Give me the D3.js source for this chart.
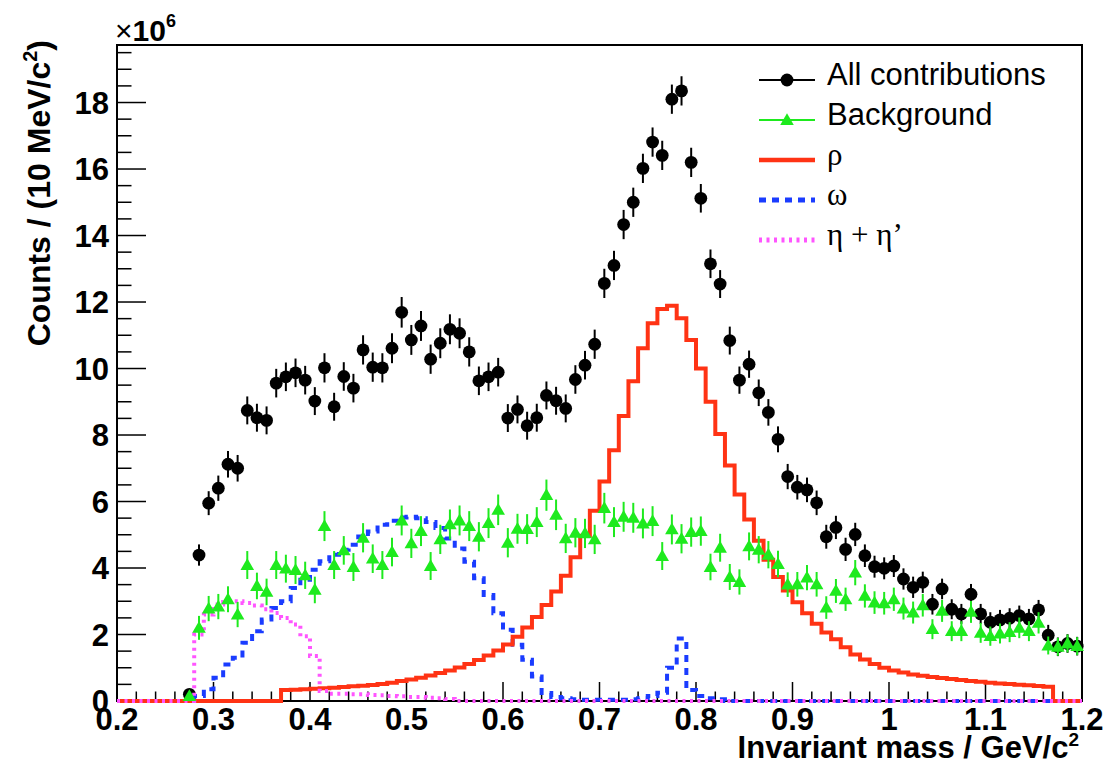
<!DOCTYPE html>
<html lang="en">
<head>
<meta charset="UTF-8">
<title>Invariant mass</title>
<script src="https://d3js.org/d3.v7.min.js"></script>
<style>
  body { margin: 0; background: #fff; }
  svg text { font-family: "Liberation Sans", Arial, Helvetica, sans-serif; }
</style>
</head>
<body>
<div id="chart"></div>
<script>
// ---- data (counts in units of 10^6, 10 MeV bins) ----
const firstCentre = 0.275;   // centre of the first non-empty data bin
const binWidth = 0.01;

const allCounts = [
  0.2, 4.39, 5.95, 6.4, 7.12, 7.0, 8.74, 8.52, 8.44, 9.56,
  9.75, 9.87, 9.65, 9.02, 10.02, 8.85, 9.76, 9.41, 10.56, 10.04,
  10.02, 10.61, 11.69, 10.86, 11.28, 10.28, 10.76, 11.18, 11.06, 10.5,
  9.63, 9.75, 9.89, 8.51, 8.77, 8.28, 8.52, 9.19, 9.03, 8.8,
  9.67, 10.1, 10.73, 12.56, 13.1, 14.33, 15.0, 16.02, 16.81, 16.41,
  18.1, 18.35, 16.2, 15.12, 13.15, 12.54, 10.84, 9.65, 10.13, 9.27,
  8.68, 7.87, 6.75, 6.43, 6.35, 5.96, 4.94, 5.22, 4.56, 5.01,
  4.37, 4.04, 3.99, 4.06, 3.67, 3.42, 3.57, 2.91, 3.37, 2.76,
  2.62, 3.21, 2.62, 2.37, 2.44, 2.49, 2.57, 2.47, 2.74, 1.98,
  1.63, 1.73, 1.65
];
const allErr = [
  0.15, 0.32, 0.36, 0.38, 0.4, 0.4, 0.42, 0.42, 0.42, 0.43,
  0.43, 0.43, 0.43, 0.42, 0.44, 0.42, 0.43, 0.43, 0.44, 0.44,
  0.44, 0.45, 0.46, 0.45, 0.45, 0.44, 0.45, 0.45, 0.45, 0.44,
  0.43, 0.43, 0.43, 0.42, 0.42, 0.42, 0.42, 0.42, 0.42, 0.42,
  0.43, 0.43, 0.44, 0.44, 0.44, 0.44, 0.44, 0.44, 0.44, 0.44,
  0.44, 0.44, 0.44, 0.43, 0.43, 0.42, 0.42, 0.41, 0.41, 0.4,
  0.4, 0.39, 0.38, 0.37, 0.37, 0.37, 0.36, 0.35, 0.35, 0.35,
  0.34, 0.33, 0.33, 0.33, 0.32, 0.32, 0.32, 0.31, 0.31, 0.3,
  0.3, 0.31, 0.3, 0.3, 0.3, 0.3, 0.3, 0.3, 0.3, 0.31,
  0.28, 0.28, 0.28
];

const bkgCounts = [
  0.15, 2.2, 2.78, 2.84, 3.06, 2.6, 4.09, 3.46, 3.28, 4.09,
  3.98, 3.94, 3.78, 3.34, 5.26, 4.09, 4.53, 4.03, 4.91, 4.28,
  4.09, 4.48, 5.43, 4.74, 5.11, 4.06, 4.86, 5.31, 5.43, 5.26,
  4.94, 5.35, 5.75, 4.76, 5.18, 5.17, 5.38, 6.19, 5.6, 4.89,
  5.06, 5.04, 4.86, 5.8, 5.38, 5.54, 5.51, 5.34, 5.41, 4.36,
  5.16, 4.88, 5.08, 5.11, 4.03, 4.61, 3.73, 3.58, 4.65, 4.55,
  4.4, 4.12, 3.5, 3.51, 3.71, 3.51, 2.81, 3.31, 3.06, 3.86,
  3.16, 2.96, 2.94, 3.06, 2.78, 2.66, 2.88, 2.16, 2.71, 2.1,
  2.1, 2.68, 2.05, 1.95, 2.03, 2.07, 2.2, 2.1, 2.35, 1.67,
  1.63, 1.73, 1.65
];
const bkgErr = [
  0.1, 0.36, 0.38, 0.38, 0.39, 0.38, 0.42, 0.4, 0.4, 0.42,
  0.42, 0.42, 0.41, 0.4, 0.45, 0.42, 0.43, 0.42, 0.44, 0.43,
  0.42, 0.43, 0.45, 0.44, 0.45, 0.42, 0.44, 0.45, 0.45, 0.45,
  0.44, 0.45, 0.46, 0.44, 0.45, 0.45, 0.45, 0.47, 0.46, 0.44,
  0.44, 0.44, 0.44, 0.46, 0.45, 0.45, 0.45, 0.45, 0.45, 0.42,
  0.45, 0.44, 0.44, 0.44, 0.4, 0.42, 0.39, 0.38, 0.42, 0.41,
  0.41, 0.4, 0.37, 0.37, 0.38, 0.37, 0.34, 0.36, 0.35, 0.38,
  0.35, 0.34, 0.34, 0.35, 0.33, 0.33, 0.34, 0.3, 0.33, 0.3,
  0.3, 0.33, 0.3, 0.29, 0.3, 0.3, 0.31, 0.3, 0.32, 0.27,
  0.27, 0.27, 0.27
];

// histograms: low edge of first filled bin + contents
const rhoStart = 0.37;
const rhoValues = [
  0.33, 0.34, 0.35, 0.37, 0.38, 0.40, 0.42, 0.44, 0.46, 0.48,
  0.51, 0.55, 0.60, 0.65, 0.70, 0.77, 0.84, 0.92, 1.01, 1.11,
  1.23, 1.37, 1.52, 1.70, 1.93, 2.21, 2.53, 2.89, 3.29, 3.77,
  4.32, 4.97, 5.72, 6.60, 7.54, 8.57, 9.62, 10.61, 11.36, 11.79,
  11.89, 11.51, 10.86, 10.0, 9.0, 8.03, 7.08, 6.21, 5.46, 4.82,
  4.25, 3.73, 3.32, 2.97, 2.64, 2.32, 2.06, 1.86, 1.62, 1.40,
  1.25, 1.11, 1.00, 0.92, 0.86, 0.80, 0.76, 0.72, 0.69, 0.66,
  0.63, 0.60, 0.58, 0.55, 0.53, 0.51, 0.49, 0.47, 0.45, 0.43
];

const omegaStart = 0.28;
const omegaValues = [
  0.15, 0.35, 0.7, 1.1, 1.3, 1.75, 2.1, 2.45, 2.8, 3.0,
  3.4, 3.65, 3.95, 4.2, 4.4, 4.55, 4.7, 4.95, 5.1, 5.3,
  5.42, 5.52, 5.54, 5.5, 5.38, 5.2, 4.89, 4.59, 4.19, 3.69,
  3.19, 2.64, 2.14, 1.69, 1.24, 0.74, 0.24, 0.12, 0.08, 0.05,
  0.04, 0.04, 0.04, 0.04, 0.04, 0.05, 0.08, 0.15, 0.25, 1.0,
  1.88, 0.33, 0.15, 0.08, 0.05
];

const etaStart = 0.28;
const etaValues = [
  2.0, 2.6, 2.9, 2.98, 3.0, 2.95, 2.87, 2.76, 2.65, 2.5,
  2.3, 1.95, 1.35, 0.3, 0.22, 0.22, 0.2, 0.2, 0.18, 0.17,
  0.15, 0.14, 0.12, 0.12, 0.1, 0.08, 0.06
];

const xTicks = [0.2, 0.3, 0.4, 0.5, 0.6, 0.7, 0.8, 0.9, 1.0, 1.1, 1.2];
const yTicks = [0, 2, 4, 6, 8, 10, 12, 14, 16, 18];

const legendItems = [
  { label: "All contributions", kind: "circle", serif: false },
  { label: "Background", kind: "triangle", serif: false },
  { label: "\u03C1", kind: "rho", serif: true },
  { label: "\u03C9", kind: "omega", serif: true },
  { label: "\u03B7 + \u03B7\u2019", kind: "eta", serif: true }
];

// ---- styles ----
const C_ALL = "#000000", C_BKG = "#1eea1e", C_RHO = "#ff3314", C_OMEGA = "#1a3cff", C_ETA = "#ff55ff";
const DASH_OMEGA = "7,6", DASH_ETA = "3,4.5";

const W = 1104, H = 768;
const margin = { top: 45, right: 22, bottom: 67, left: 117 };

const svg = d3.select("#chart").append("svg")
  .attr("width", W).attr("height", H);

const x = d3.scaleLinear().domain([0.2, 1.2]).range([margin.left, W - margin.right]);
const y = d3.scaleLinear().domain([0, 19.73]).range([H - margin.bottom, margin.top]);

const x0 = x(0.2), x1 = x(1.2), y0 = y(0), y1 = y(19.73);

const axisG = svg.append("g");

// x ticks (major 0.1, minor 0.02), drawn upward from the axis
const xMinor = d3.range(0, 51).map(i => 0.2 + i * 0.02);
axisG.selectAll(".xminor").data(xMinor).join("line")
  .attr("x1", d => x(d)).attr("x2", d => x(d))
  .attr("y1", y0).attr("y2", (d, i) => i % 5 === 0 ? y0 - 19 : y0 - 9.5)
  .attr("stroke", "#000").attr("stroke-width", 1.5);

const yMinor = d3.range(0, 40).map(i => i * 0.5);
axisG.selectAll(".yminor").data(yMinor).join("line")
  .attr("y1", d => y(d)).attr("y2", d => y(d))
  .attr("x1", x0).attr("x2", (d, i) => i % 4 === 0 ? x0 + 29 : x0 + 14.5)
  .attr("stroke", "#000").attr("stroke-width", 1.5);

// frame
svg.append("rect")
  .attr("x", x0).attr("y", y1).attr("width", x1 - x0).attr("height", y0 - y1)
  .attr("fill", "none").attr("stroke", "#000").attr("stroke-width", 2);

// tick labels
axisG.selectAll(".xlab").data(xTicks).join("text")
  .attr("x", d => x(d)).attr("y", y0 + 29)
  .attr("text-anchor", "middle").attr("font-weight", "bold").attr("font-size", 31)
  .text(d => d3.format("~g")(d));

axisG.selectAll(".ylab").data(yTicks).join("text")
  .attr("x", x0 - 8).attr("y", d => y(d) + 11)
  .attr("text-anchor", "end").attr("font-weight", "bold").attr("font-size", 31)
  .text(d => d);

// axis titles
const xt = svg.append("text")
  .attr("x", x1 - 3).attr("y", 758)
  .attr("text-anchor", "end").attr("font-weight", "bold").attr("font-size", 31);
xt.append("tspan").text("Invariant mass / GeV/c");
xt.append("tspan").attr("font-size", 19).attr("dy", -12).text("2");

const yt = svg.append("text")
  .attr("transform", "translate(50,40) rotate(-90)")
  .attr("text-anchor", "end").attr("font-weight", "bold").attr("font-size", 32);
yt.append("tspan").text("Counts / (10 MeV/c");
yt.append("tspan").attr("font-size", 20).attr("dy", -13).text("2");
yt.append("tspan").attr("dy", 13).text(")");

const ex = svg.append("text").attr("x", x0 - 2).attr("y", 41).attr("font-size", 30);
ex.append("tspan").text("\u00D7");
ex.append("tspan").attr("font-weight", "bold").text("10");
ex.append("tspan").attr("font-size", 18).attr("dy", -14).attr("font-weight", "bold").text("6");

// ---- histograms ----
const nBins = 100;
function fullHist(start, values) {
  const offset = Math.round((start - 0.2) / binWidth);
  const pts = d3.range(nBins).map(i => {
    const k = i - offset;
    return { lo: 0.2 + i * binWidth, v: (k >= 0 && k < values.length) ? values[k] : 0 };
  });
  pts.push({ lo: 1.2, v: pts[nBins - 1].v });
  return pts;
}
const step = d3.line().x(d => x(d.lo)).y(d => y(d.v)).curve(d3.curveStepAfter);

const plot = svg.append("g");

// data points with errors
function pointsOf(values, errs) {
  return values.map((v, i) => ({ m: firstCentre + i * binWidth, v, e: errs[i] }));
}
const allPts = pointsOf(allCounts, allErr);
const bkgPts = pointsOf(bkgCounts, bkgErr);

plot.append("g").selectAll("line").data(allPts).join("line")
  .attr("x1", d => x(d.m)).attr("x2", d => x(d.m))
  .attr("y1", d => Math.min(y(d.v - d.e), y0)).attr("y2", d => y(d.v + d.e))
  .attr("stroke", C_ALL).attr("stroke-width", 2);
plot.append("g").selectAll("circle").data(allPts).join("circle")
  .attr("cx", d => x(d.m)).attr("cy", d => y(d.v)).attr("r", 6.4)
  .attr("fill", C_ALL);

plot.append("path").datum(fullHist(omegaStart, omegaValues)).attr("d", step)
  .attr("fill", "none").attr("stroke", C_OMEGA).attr("stroke-width", 4)
  .attr("stroke-dasharray", DASH_OMEGA);

plot.append("path").datum(fullHist(rhoStart, rhoValues)).attr("d", step)
  .attr("fill", "none").attr("stroke", C_RHO).attr("stroke-width", 4);

plot.append("path").datum(fullHist(etaStart, etaValues)).attr("d", step)
  .attr("fill", "none").attr("stroke", C_ETA).attr("stroke-width", 4)
  .attr("stroke-dasharray", DASH_ETA);

const tri = d3.symbol().type(d3.symbolTriangle).size(80);
plot.append("g").selectAll("line").data(bkgPts).join("line")
  .attr("x1", d => x(d.m)).attr("x2", d => x(d.m))
  .attr("y1", d => Math.min(y(d.v - d.e), y0)).attr("y2", d => y(d.v + d.e))
  .attr("stroke", C_BKG).attr("stroke-width", 2);
plot.append("g").selectAll("path").data(bkgPts).join("path")
  .attr("d", tri)
  .attr("transform", d => `translate(${x(d.m)},${y(d.v) + 1})`)
  .attr("fill", C_BKG);

// ---- legend ----
const lg = svg.append("g");
const lx0 = 759, lx1 = 815, ltx = 827, ly = 80, lstep = 40;
legendItems.forEach((it, i) => {
  const yy = ly + i * lstep;
  const g = lg.append("g");
  if (it.kind === "circle") {
    g.append("line").attr("x1", lx0).attr("x2", lx1).attr("y1", yy).attr("y2", yy)
      .attr("stroke", C_ALL).attr("stroke-width", 2);
    g.append("circle").attr("cx", (lx0 + lx1) / 2).attr("cy", yy).attr("r", 6.4).attr("fill", C_ALL);
  } else if (it.kind === "triangle") {
    g.append("line").attr("x1", lx0).attr("x2", lx1).attr("y1", yy).attr("y2", yy)
      .attr("stroke", C_BKG).attr("stroke-width", 2);
    g.append("path").attr("d", tri).attr("transform", `translate(${(lx0 + lx1) / 2},${yy + 1})`).attr("fill", C_BKG);
  } else if (it.kind === "rho") {
    g.append("line").attr("x1", lx0).attr("x2", lx1).attr("y1", yy).attr("y2", yy)
      .attr("stroke", C_RHO).attr("stroke-width", 4.5);
  } else if (it.kind === "omega") {
    g.append("line").attr("x1", lx0).attr("x2", lx1).attr("y1", yy).attr("y2", yy)
      .attr("stroke", C_OMEGA).attr("stroke-width", 5).attr("stroke-dasharray", DASH_OMEGA);
  } else {
    g.append("line").attr("x1", lx0).attr("x2", lx1).attr("y1", yy).attr("y2", yy)
      .attr("stroke", C_ETA).attr("stroke-width", 5).attr("stroke-dasharray", DASH_ETA);
  }
  g.append("text").attr("x", ltx).attr("y", yy + 5)
    .attr("font-size", 31)
    .style("font-family", it.serif ? "'Liberation Serif', 'Times New Roman', serif" : null)
    .text(it.label);
});
</script>
</body>
</html>
